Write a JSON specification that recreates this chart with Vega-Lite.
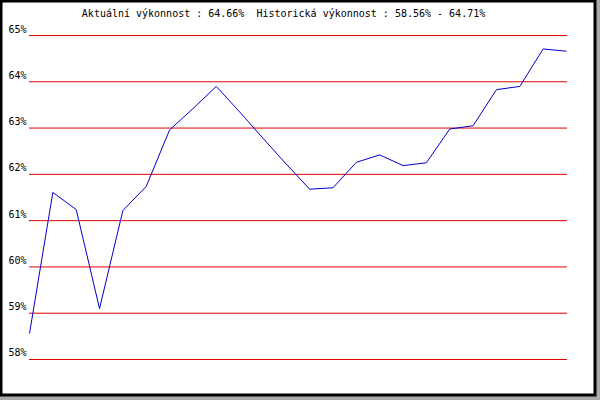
{
  "$schema": "https://vega.github.io/schema/vega-lite/v6.json",
  "width": 594,
  "height": 394,
  "autosize": {"type": "none"},
  "padding": {"left": 1, "top": 1, "right": 5, "bottom": 5},
  "background": "#aaaaaa",
  "config": {
    "view": {"stroke": "#000000", "strokeWidth": 3, "fill": "#ffffff"}
  },
  "datasets": {
    "perf": [
      {"i": 0, "v": 58.56}, {"i": 1, "v": 61.61}, {"i": 2, "v": 61.24}, {"i": 3, "v": 59.1},
      {"i": 4, "v": 61.22}, {"i": 5, "v": 61.74}, {"i": 6, "v": 62.96}, {"i": 7, "v": 63.42},
      {"i": 8, "v": 63.9}, {"i": 9, "v": 63.35}, {"i": 10, "v": 62.78}, {"i": 11, "v": 62.22},
      {"i": 12, "v": 61.68}, {"i": 13, "v": 61.71}, {"i": 14, "v": 62.26}, {"i": 15, "v": 62.42},
      {"i": 16, "v": 62.19}, {"i": 17, "v": 62.25}, {"i": 18, "v": 62.98}, {"i": 19, "v": 63.05},
      {"i": 20, "v": 63.83}, {"i": 21, "v": 63.9}, {"i": 22, "v": 64.71}, {"i": 23, "v": 64.66}
    ],
    "grid": [
      {"level": 58, "label": "58%"}, {"level": 59, "label": "59%"}, {"level": 60, "label": "60%"},
      {"level": 61, "label": "61%"}, {"level": 62, "label": "62%"}, {"level": 63, "label": "63%"},
      {"level": 64, "label": "64%"}, {"level": 65, "label": "65%"}
    ],
    "title": [
      {"text": "Aktuální výkonnost : 64.66%\u00a0 Historická výkonnost : 58.56% - 64.71%"}
    ]
  },
  "layer": [
    {
      "data": {"name": "grid"},
      "mark": {"type": "rule", "color": "#e00000", "strokeWidth": 1, "strokeCap": "square"},
      "encoding": {
        "x": {"datum": 0, "type": "quantitative", "scale": {"domain": [-1.2207, 24.2207], "nice": false, "zero": false}, "axis": null},
        "x2": {"datum": 23},
        "y": {"field": "level", "type": "quantitative", "scale": {"domain": [57.233, 65.7454], "nice": false, "zero": false}, "axis": null}
      }
    },
    {
      "data": {"name": "grid"},
      "mark": {"type": "text", "align": "right", "baseline": "alphabetic", "dx": -3, "dy": -3, "font": "DejaVu Sans Mono", "fontSize": 10, "color": "#000000"},
      "encoding": {
        "x": {"datum": 0, "type": "quantitative"},
        "y": {"field": "level", "type": "quantitative"},
        "text": {"field": "label"}
      }
    },
    {
      "data": {"name": "perf"},
      "mark": {"type": "line", "color": "#0000cc", "strokeWidth": 1},
      "encoding": {
        "x": {"field": "i", "type": "quantitative"},
        "y": {"field": "v", "type": "quantitative"}
      }
    },
    {
      "data": {"name": "title"},
      "mark": {"type": "text", "align": "center", "baseline": "alphabetic", "font": "DejaVu Sans Mono", "fontSize": 10, "color": "#000000"},
      "encoding": {
        "x": {"datum": 10.88, "type": "quantitative"},
        "y": {"datum": 65.389, "type": "quantitative"},
        "text": {"field": "text"}
      }
    }
  ]
}
